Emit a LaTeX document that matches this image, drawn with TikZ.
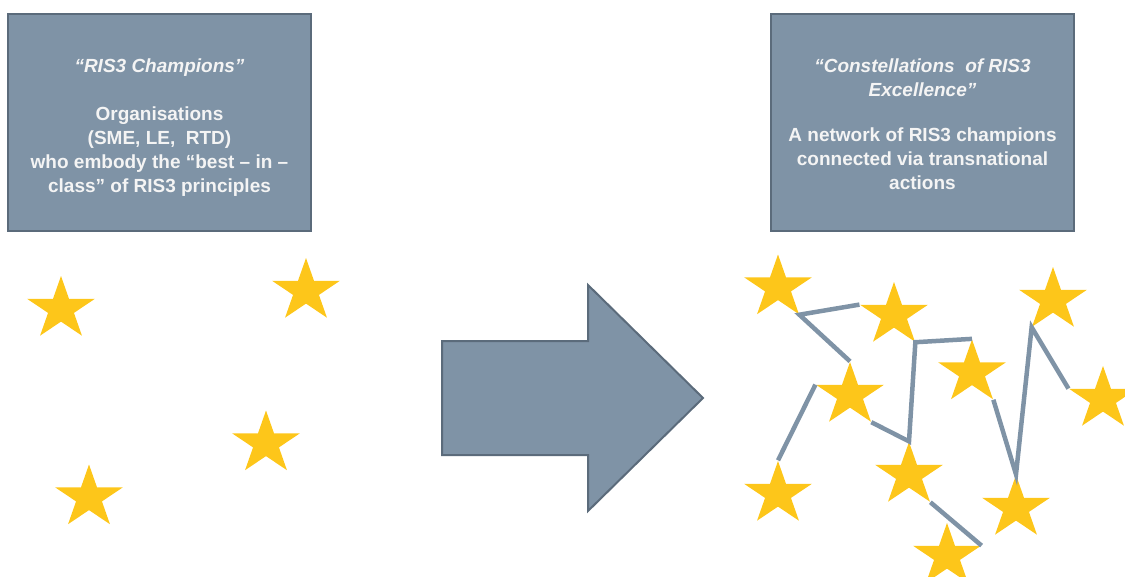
\documentclass[tikz,border=0pt]{standalone}
\usepackage{fontspec}
\setmainfont{Liberation Sans}
\usetikzlibrary{shapes.geometric,calc}
\definecolor{boxfill}{HTML}{7F93A6}
\definecolor{boxedge}{HTML}{5B6B7B}
\definecolor{staryellow}{HTML}{FDC61A}
\definecolor{paneltextcol}{HTML}{F4F4F4}
\begin{document}
\begin{tikzpicture}[x=1pt,y=-1pt,
  panel/.style={draw=boxedge, line width=2.5pt, fill=boxfill, minimum width=303pt, minimum height=217pt, inner sep=0pt},
  paneltext/.style={text=paneltextcol, font=\fontsize{19}{24}\selectfont\bfseries, align=center, inner sep=0pt},
  champ/.style={star, star points=5, star point ratio=2.618, fill=staryellow, draw=none, minimum size=66pt, inner sep=0pt, xscale=1.08, transform shape},
  link/.style={draw=boxfill, line width=4.5pt},
  bigarrow/.style={draw=boxedge, line width=2pt, fill=boxfill, line join=miter}]
\useasboundingbox (0,0) rectangle (1125,576);
\clip (0,0) rectangle (1125,576);

% panels
\node[panel] (champbox) at (159.5,122.5) {};
\node[paneltext] (champtext) at (159.5,128) {\itshape “RIS3 Champions”\\[24pt]
Organisations\\(SME, LE,\ \ RTD)\\who embody the “best – in –\\class” of RIS3 principles};

\node[panel] (constbox) at (922.5,122.5) {};
\node[paneltext] (consttext) at (922.5,124.5) {\itshape “Constellations\ \ of RIS3\\\itshape Excellence”\\[21pt]
A network of RIS3 champions\\connected via transnational\\actions};

% big arrow
\draw[bigarrow] (442,341) -- (588,341) -- (588,285) -- (703,398) -- (588,511) -- (588,455) -- (442,455) -- cycle;

% left stars
\node[champ] (l1) at (61,309) {};
\node[champ] (l2) at (306,291) {};
\node[champ] (l3) at (266,443.5) {};
\node[champ] (l4) at (89,497.5) {};

% right stars
\node[champ] (a) at (778,287.5) {};
\node[champ] (b) at (894,315) {};
\node[champ] (c) at (1053,300) {};
\node[champ] (d) at (972,372.5) {};
\node[champ] (e) at (850,395) {};
\node[champ] (f) at (1103,399) {};
\node[champ] (g) at (778,494) {};
\node[champ] (h) at (909,475) {};
\node[champ] (i) at (1016,508) {};
\node[champ] (j) at (947,556) {};

% links
\draw[link] (b.outer point 2) -- (a.outer point 4) -- (e.outer point 1);
\draw[link] (d.outer point 1) -- (b.outer point 4) -- (h.outer point 1) -- (e.outer point 4);
\draw[link] (e.outer point 2) -- (g.outer point 1);
\draw[link] (h.outer point 4) -- (j.outer point 5);
\draw[link] (d.outer point 4) -- (i.outer point 1) -- (c.outer point 3) -- (f.outer point 2);
\end{tikzpicture}
\end{document}
